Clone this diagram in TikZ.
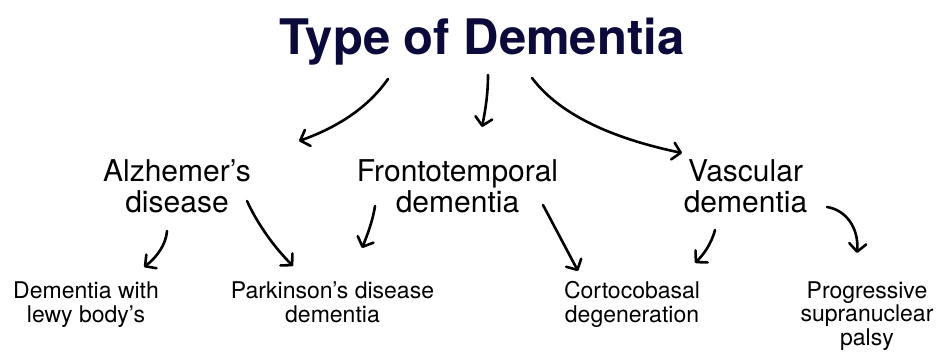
\documentclass[tikz,border=0pt]{standalone}
\usepackage{fontspec}
\setmainfont{TeX Gyre Heros}
\usetikzlibrary{arrows.meta}
\definecolor{titlenavy}{RGB}{12,10,58}
\begin{document}
\begin{tikzpicture}[x=1pt,y=-1pt,
  titletext/.style={font=\fontsize{49}{54}\selectfont\bfseries, text=titlenavy, inner sep=0pt, anchor=base},
  midtext/.style={font=\fontsize{30}{31}\selectfont, align=center, inner sep=0pt, anchor=base},
  lowtext/.style={font=\fontsize{23}{23.5}\selectfont, align=center, inner sep=0pt, anchor=base},
  handarrow/.style={line width=2.6pt, line cap=round, line join=round,
    -{Straight Barb[length=8pt,width=17pt,line cap=round,line join=round]}}]
\useasboundingbox (0,0) rectangle (939,353);
\fill[white] (0,0) rectangle (939,353);

\node[titletext] (title) at (482,55) {Type of Dementia};

\node[midtext] (alz) at (177,212) {Alzhemer’s\\disease};
\node[midtext] (fronto) at (457.5,212) {Frontotemporal\\dementia};
\node[midtext] (vasc) at (745.5,212) {Vascular\\dementia};

\node[lowtext] (lewy) at (86,322) {Dementia with\\lewy body’s};
\node[lowtext] (park) at (332.5,322) {Parkinson’s disease\\dementia};
\node[lowtext] (corto) at (632,322) {Cortocobasal\\degeneration};
\node[lowtext] (psp) at (867,345) {Progressive\\supranuclear\\palsy};

% arrow end points
\coordinate (t1s) at (388,79);  \coordinate (t1e) at (299,141);
\coordinate (t2s) at (488,75);  \coordinate (t2e) at (482,127);
\coordinate (t3s) at (532,78);  \coordinate (t3e) at (682,153);
\coordinate (a1s) at (167,231); \coordinate (a1e) at (144,267);
\coordinate (a2s) at (247,201); \coordinate (a2e) at (293,266);
\coordinate (f1s) at (375,206); \coordinate (f1e) at (362,248);
\coordinate (f2s) at (543,205); \coordinate (f2e) at (578,271);
\coordinate (v1s) at (715,230); \coordinate (v1e) at (695,263);
\coordinate (v2s) at (827,207); \coordinate (v2e) at (857,253);

\draw[handarrow] (t1s) .. controls (365,112) and (330,130) .. (t1e);
\draw[handarrow] (t2s) .. controls (488,95) and (485,112) .. (t2e);
\draw[handarrow] (t3s) .. controls (562,118) and (620,140) .. (t3e);
\draw[handarrow] (a1s) .. controls (166,245) and (156,258) .. (a1e);
\draw[handarrow] (a2s) .. controls (258,225) and (275,248) .. (a2e);
\draw[handarrow] (f1s) .. controls (373,220) and (367,236) .. (f1e);
\draw[handarrow] (f2s) -- (f2e);
\draw[handarrow] (v1s) .. controls (711,245) and (703,255) .. (v1e);
\draw[handarrow] (v2s) .. controls (846,210) and (859,228) .. (v2e);
\end{tikzpicture}
\end{document}
